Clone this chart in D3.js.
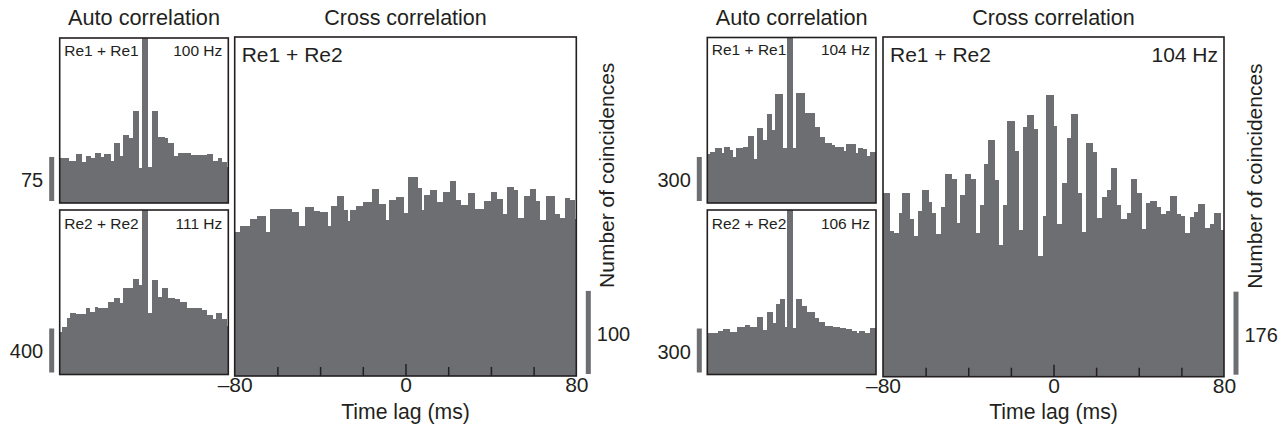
<!DOCTYPE html>
<html>
<head>
<meta charset="utf-8">
<script src="https://cdn.jsdelivr.net/npm/d3@7/dist/d3.min.js"></script>
<style>
  html, body { margin: 0; padding: 0; background: #ffffff; }
  svg { display: block; }
</style>
</head>
<body>
<svg id="chart" width="1278" height="434"></svg>
<script>
// ---------------- DATA ----------------
const titleAuto = "Auto correlation";
const titleCross = "Cross correlation";
const xTitle = "Time lag (ms)";
const yTitle = "Number of coincidences";
const pairLabels = ["Re1 + Re1", "Re2 + Re2", "Re1 + Re2"];
const rateLabelsL = ["100 Hz", "111 Hz", ""];
const rateLabelsR = ["104 Hz", "106 Hz", "104 Hz"];
const lagTicks = [-60, -40, -20, 0, 20, 40, 60];
const lagLabelValues = [-80, 0, 80];
const lagLabels = ["\u201380", "0", "80"];
const autoLagDomain = [-20, 20];
const crossLagDomain = [-80, 80];
// scale-bar values: [auto top, auto bottom, cross]
const scaleValuesL = [75, 400, 100];
const scaleValuesR = [300, 300, 176];
// y-domain tops: [auto top, auto bottom, cross]
const yMaxL = [281, 1495, 408];
const yMaxR = [1128, 1122, 720];

// Left: Re1 + Re1 auto correlation (bin edges in ms, counts)
const autoL1Edges = [-20,-17.8,-16.2,-14.8,-13.8,-12.6,-11.6,-10.3,-9.4,-7.9,-7.1,-5.7,-4.9,-3.6,-2.5,-1.1,-0.4,1.0,2.0,3.4,5.0,5.8,7.1,8.1,9.7,11.1,12.5,14.9,16.3,17.6,18.6,19.6,20];
const autoL1Counts = [76,72,83,70,80,77,85,79,83,72,103,80,115,110,157,60,300,61,157,112,110,103,80,85,86,81,81,84,72,77,70,61];
// Left: Re2 + Re2 auto correlation
const autoL2Edges = [-20,-19.4,-18.3,-17.5,-16.2,-13.8,-12.8,-11.6,-10.8,-8.6,-7.0,-5.7,-4.9,-2.5,-1.3,-0.4,1.0,2.0,3.4,4.3,5.8,7.4,8.5,10.1,12.5,13.7,14.9,16.4,17.0,18.4,19.6,20];
const autoL2Counts = [389,435,511,556,550,607,571,611,602,659,698,647,784,868,814,1600,556,859,707,784,698,684,662,607,602,586,541,502,556,502,441];
// Left: Re1 + Re2 cross correlation
const crossLEdges = [-80,-77.4,-72.7,-69.6,-65.2,-63.6,-53.2,-50.0,-47.2,-43.0,-39.9,-36.4,-34.9,-32.1,-29.0,-26.9,-25.8,-23.2,-19.9,-15.7,-12.6,-9.1,-7.9,-4.3,-0.5,1.0,5.7,7.7,8.8,11.6,14.8,17.4,21.0,23.7,26.0,29.1,32.7,36.9,40.2,42.9,45.5,47.5,50.7,52.5,55.4,58.2,61.3,63.2,65.6,70.2,72.5,74.9,77.2,79.3,80];
const crossLCounts = [173,180,189,193,173,201,197,180,204,198,197,181,205,217,200,186,200,205,209,225,207,188,212,215,196,240,226,200,218,224,209,221,235,212,206,220,201,211,221,213,195,228,224,190,217,225,211,188,217,195,190,214,212,189];

// Right: Re1 + Re1 auto correlation
const autoR1Edges = [-20,-19.4,-18.2,-16.6,-16.0,-14.6,-13.8,-13.2,-11.5,-10.4,-8.9,-8.1,-6.7,-5.9,-4.6,-4.0,-2.0,-1.0,0.4,1.0,3.2,5.5,6.7,7.9,9.5,10.3,12.3,13.0,15.2,15.8,17.0,17.8,18.6,20];
const autoR1Counts = [334,350,377,343,380,361,316,373,384,457,298,509,430,605,498,741,377,1200,373,748,612,520,452,407,395,384,357,400,339,377,368,320,346];
// Right: Re2 + Re2 auto correlation
const autoR2Edges = [-20,-17.4,-16.2,-14.6,-13.0,-11.1,-9.9,-8.1,-6.7,-5.9,-4.5,-3.7,-2.8,-1.6,-1.0,0.4,1.0,2.4,3.6,5.5,6.6,7.9,9.9,11.5,13.0,14.2,15.4,16.0,17.4,18.6,20];
const autoR2Counts = [281,297,308,292,322,337,322,390,303,428,349,479,513,326,1200,315,513,467,428,383,360,331,326,319,308,297,281,297,281,319];
// Right: Re1 + Re2 cross correlation
const crossREdges = [-80,-76.9,-74.8,-72.6,-70.9,-67.5,-65.6,-63.5,-61.7,-58.5,-56.8,-54.9,-52.7,-50.9,-47.6,-45.5,-43.7,-41.6,-38.5,-36.5,-34.6,-32.5,-30.7,-27.5,-25.7,-23.6,-21.6,-18.1,-16.4,-14.2,-12.3,-9.1,-7.2,-5.1,-3.3,0.2,1.7,4.1,6.1,8.0,11.3,13.2,15.2,18.7,20.5,22.6,24.9,26.8,29.9,31.8,34.3,36.2,39.3,41.4,43.4,45.3,48.4,50.5,52.7,54.7,57.8,59.8,61.7,64.1,65.9,68.0,71.1,73.5,75.5,78.5,80];
const crossRCounts = [389,309,305,347,389,334,298,351,396,370,347,302,360,430,419,326,385,430,419,305,364,451,502,417,279,364,542,478,311,529,555,525,256,341,597,531,324,411,506,557,389,307,495,476,336,381,396,442,364,334,347,419,389,313,368,372,360,345,351,383,345,341,305,338,349,366,315,324,347,311];

// ---------------- DRAWING ----------------
const svg = d3.select("#chart");
const FONT = "'Liberation Sans', Arial, Helvetica, sans-serif";
const INK = "#231f20";
const BAR = "#6d6e71";

function panel(box, edges, counts, xDom, yMax) {
  const g = svg.append("g");
  const xs = d3.scaleLinear().domain(xDom).range([box.x, box.x + box.w]);
  const ys = d3.scaleLinear().domain([0, yMax]).range([box.y + box.h, box.y]).clamp(true);
  const bins = counts.map((c, i) => ({ x0: edges[i], x1: edges[i + 1], c: c }));
  g.selectAll("rect.bar").data(bins).join("rect")
    .attr("class", "bar")
    .attr("x", d => xs(d.x0))
    .attr("width", d => xs(d.x1) - xs(d.x0))
    .attr("y", d => ys(d.c))
    .attr("height", d => ys(0) - ys(d.c))
    .attr("fill", BAR)
    .attr("shape-rendering", "crispEdges");
  g.append("rect")
    .attr("x", box.x).attr("y", box.y).attr("width", box.w).attr("height", box.h)
    .attr("fill", "none").attr("stroke", INK).attr("stroke-width", 1.6);
  return { g, xs, ys };
}

function text(x, y, str, size, anchor) {
  return svg.append("text")
    .attr("x", x).attr("y", y)
    .attr("font-family", FONT).attr("font-size", size)
    .attr("fill", INK).attr("text-anchor", anchor || "start")
    .text(str);
}

function scaleBar(ys, value, xBar, side, withTitle) {
  const top = ys(value) - 2;
  const h = ys(0) - ys(value);
  svg.append("rect").attr("x", xBar).attr("y", top).attr("width", 5).attr("height", h).attr("fill", BAR);
  const mid = top + h / 2;
  if (side === "left") {
    text(xBar - 6, mid + 8, String(value), 20, "end");
  } else {
    text(xBar + 11, mid + 9, String(value), 20, "start");
  }
  if (withTitle) {
    svg.append("text")
      .attr("transform", `translate(${xBar + 28},${top - 3}) rotate(-90)`)
      .attr("font-family", FONT).attr("font-size", 21).attr("fill", INK)
      .attr("text-anchor", "start")
      .text(yTitle);
  }
}

function drawGroup(L, autoTopE, autoTopC, autoBotE, autoBotC, crossE, crossC, yMax, scaleVals, rates) {
  const boxA1 = { x: L.ax, y: L.at, w: L.aw, h: L.ah };
  const boxA2 = { x: L.ax, y: L.bt, w: L.aw, h: L.bh };
  const boxC = { x: L.cx, y: L.cy, w: L.cw, h: L.ch };

  const p1 = panel(boxA1, autoTopE, autoTopC, autoLagDomain, yMax[0]);
  const p2 = panel(boxA2, autoBotE, autoBotC, autoLagDomain, yMax[1]);
  const p3 = panel(boxC, crossE, crossC, crossLagDomain, yMax[2]);

  // panel labels
  text(boxA1.x + 4.5, boxA1.y + 17.5, pairLabels[0], 15.5);
  text(boxA1.x + boxA1.w - 6, boxA1.y + 17.5, rates[0], 15.5, "end");
  text(boxA2.x + 4.5, boxA2.y + 18.5, pairLabels[1], 15.5);
  text(boxA2.x + boxA2.w - 6, boxA2.y + 18.5, rates[1], 15.5, "end");
  text(boxC.x + 7, boxC.y + 25, pairLabels[2], 21);
  if (rates[2]) text(boxC.x + boxC.w - 6, boxC.y + 25, rates[2], 21, "end");

  // titles
  text(boxA1.x + boxA1.w / 2, 25, titleAuto, 21.7, "middle");
  text(boxC.x + boxC.w / 2, 25, titleCross, 21.5, "middle");

  // ticks inside cross panel
  const tickAxis = d3.axisBottom(p3.xs).tickValues(lagTicks).tickSize(-9).tickFormat("");
  const tg = svg.append("g").attr("transform", `translate(0,${boxC.y + boxC.h})`).call(tickAxis);
  tg.select(".domain").remove();
  tg.selectAll(".tick line").attr("stroke", INK).attr("stroke-width", 1.5)
    .attr("y2", d => d === 0 ? -12 : -9);

  // tick labels
  const labAxis = d3.axisBottom(p3.xs).tickValues(lagLabelValues)
    .tickFormat((d, i) => lagLabels[i]).tickSize(0).tickPadding(1.5);
  const lg = svg.append("g").attr("transform", `translate(0,${boxC.y + boxC.h})`).call(labAxis);
  lg.select(".domain").remove();
  lg.attr("font-family", FONT).attr("font-size", 21);
  lg.selectAll("text").attr("fill", INK);

  text(boxC.x + boxC.w / 2, 419, xTitle, 21.2, "middle");

  // scale bars
  scaleBar(p1.ys, scaleVals[0], boxA1.x - 10.5, "left", false);
  scaleBar(p2.ys, scaleVals[1], boxA2.x - 10.5, "left", false);
  scaleBar(p3.ys, scaleVals[2], boxC.x + boxC.w + 9.5, "right", true);
}

const layoutL = { ax: 59.7, aw: 168.6, at: 38, ah: 165, bt: 210, bh: 164.5, cx: 234.7, cw: 341.6, cy: 37, ch: 339 };
const layoutR = { ax: 707.3, aw: 168.7, at: 37.5, ah: 165.5, bt: 210, bh: 164.5, cx: 883, cw: 341, cy: 37, ch: 339.7 };

drawGroup(layoutL, autoL1Edges, autoL1Counts, autoL2Edges, autoL2Counts, crossLEdges, crossLCounts, yMaxL, scaleValuesL, rateLabelsL);
drawGroup(layoutR, autoR1Edges, autoR1Counts, autoR2Edges, autoR2Counts, crossREdges, crossRCounts, yMaxR, scaleValuesR, rateLabelsR);
</script>
</body>
</html>
